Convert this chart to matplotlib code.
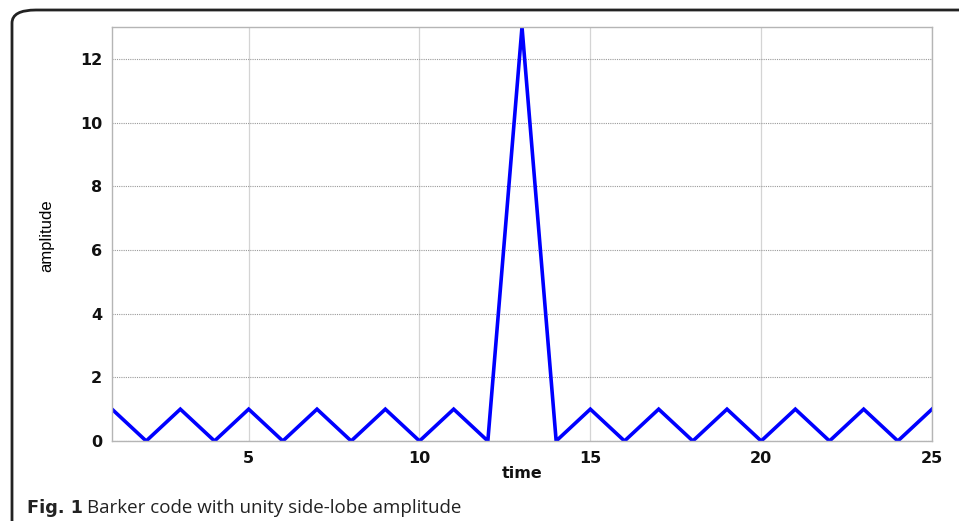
import numpy as np
import matplotlib.pyplot as plt
from matplotlib import font_manager as fm
from matplotlib.patches import FancyBboxPatch

# autocorrelation magnitude of the 13-element Barker code
time = np.arange(1, 26)
amplitude = [1, 0, 1, 0, 1, 0, 1, 0, 1, 0, 1, 0, 13, 0, 1, 0, 1, 0, 1, 0, 1, 0, 1, 0, 1]
xticks = [5, 10, 15, 20, 25]
yticks = [0, 2, 4, 6, 8, 10, 12]


def font(name, weight, size):
    # pick a regular-width file so bold doesn't resolve to a narrow/condensed cut
    for f in fm.fontManager.ttflist:
        low = f.fname.lower()
        if (f.name == name and f.weight == weight and f.style == 'normal'
                and f.stretch == 'normal'
                and 'narrow' not in low and 'condensed' not in low
                and 'semicond' not in low):
            return fm.FontProperties(fname=f.fname, size=size)
    return fm.FontProperties(family='DejaVu Sans', weight=weight, size=size)


W, H = 959, 521
fig = plt.figure(figsize=(W / 100, H / 100), dpi=100)

# frame around the figure, open to the right and bottom
frame = FancyBboxPatch((12 / W, -0.2), 1.2, (H - 10) / H + 0.2,
                       boxstyle='round,pad=0,rounding_size=0.025',
                       transform=fig.transFigure, fill=False,
                       edgecolor='#222222', linewidth=2, clip_on=False)
fig.patches.append(frame)

ax = fig.add_axes([112 / W, 1 - 441 / H, (932 - 112) / W, (441 - 27) / H])
ax.plot(time, amplitude, color='#0000ff', linewidth=2.6, solid_joinstyle='miter')
ax.set_xlim(1, 25)
ax.set_ylim(0, 13)
ax.set_xticks(xticks)
ax.set_yticks(yticks)
ax.tick_params(length=0, pad=7)
bold = fm.FontProperties(family='DejaVu Sans', weight='bold', size=11.5)
for lab in ax.get_xticklabels() + ax.get_yticklabels():
    lab.set_fontproperties(bold)
    lab.set_color('#111111')
ax.grid(axis='x', color='#d4d4d4', linestyle='-', linewidth=0.9)
ax.grid(axis='y', color='#9a9a9a', linestyle=(0, (1, 1)), linewidth=0.8)
ax.set_axisbelow(True)
for s in ax.spines.values():
    s.set_color('#b5b5b5')
    s.set_linewidth(1.0)

ax.set_xlabel('time', fontproperties=bold, color='#111111')
ax.xaxis.set_label_coords(0.5, (441 - 474) / 414, transform=ax.transAxes)
ax.xaxis.label.set_va('center')
ax.set_ylabel('amplitude', fontproperties=font('Liberation Sans', 400, 12),
              color='black')
ax.yaxis.set_label_coords((47 - 112) / 820, (441 - 236) / 414, transform=ax.transAxes)
ax.yaxis.label.set_va('center')

# caption
fig.text(27 / W, 1 - 508 / H, 'Fig. 1', fontproperties=font('Noto Sans', 700, 12.8),
         va='center', ha='left', color='#222222')
fig.text(87 / W, 1 - 508 / H, 'Barker code with unity side-lobe amplitude',
         fontproperties=font('Open Sans', 400, 13.5), va='center', ha='left',
         color='#222222')

fig.savefig('out.png', dpi=100)
